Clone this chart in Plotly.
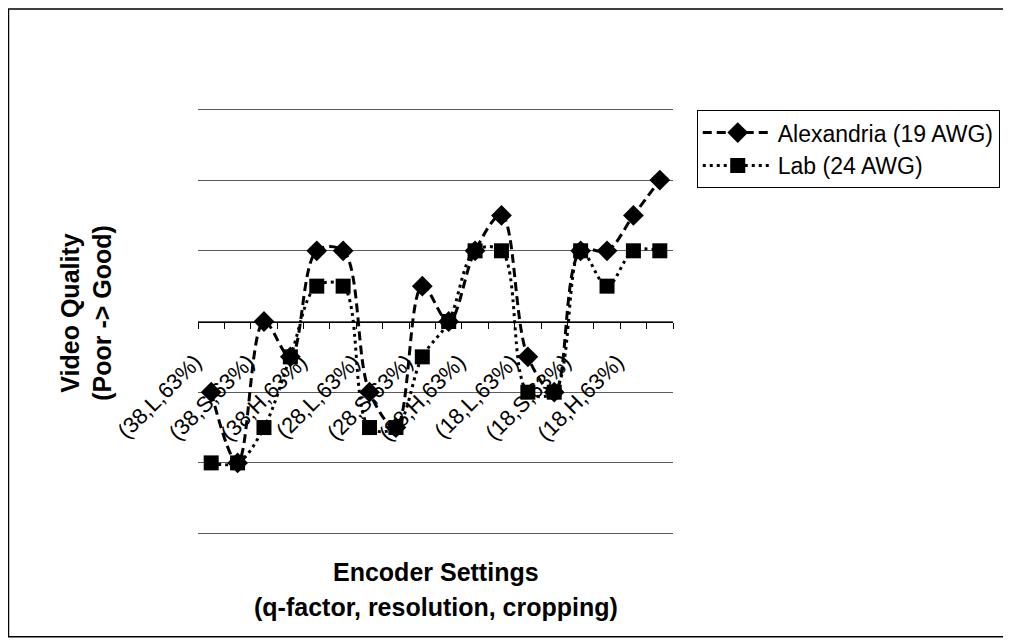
import plotly.graph_objects as go

# Category index (1..18) along the x axis
positions = list(range(1, 19))
# Visible tick labels (every other category)
label_positions = [1, 3, 5, 7, 9, 11, 13, 15, 17]
label_text = ["(38,L,63%)", "(38,S,63%)", "(38,H,63%)",
              "(28,L,63%)", "(28,S,63%)", "(28,H,63%)",
              "(18,L,63%)", "(18,S,63%)", "(18,H,63%)"]

alexandria = [-1, -2, 0, -0.5, 1, 1, -1, -1.5, 0.5, 0, 1, 1.5, -0.5, -1, 1, 1, 1.5, 2]
lab = [-2, -2, -1.5, -0.5, 0.5, 0.5, -1.5, -1.5, -0.5, 0, 1, 1, -1, -1, 1, 0.5, 1, 1]

FONT = "Liberation Sans, Arial, sans-serif"

fig = go.Figure()
fig.add_trace(go.Scatter(
    x=positions, y=alexandria, name="Alexandria (19 AWG)",
    mode="lines+markers",
    line=dict(color="black", width=3, dash="9px,5px", shape="spline", smoothing=1),
    marker=dict(symbol="diamond", size=16, color="black"),
))
fig.add_trace(go.Scatter(
    x=positions, y=lab, name="Lab (24 AWG)",
    mode="lines+markers",
    line=dict(color="black", width=3, dash="3px,4px", shape="spline", smoothing=1),
    marker=dict(symbol="square", size=15, color="black"),
))

fig.update_layout(
    width=1003, height=633,
    margin=dict(l=190, r=338, t=100, b=106, autoexpand=False),
    paper_bgcolor="white", plot_bgcolor="white",
    font=dict(family=FONT, color="black"),
    showlegend=True,
    legend=dict(
        x=1.05, y=0.995, xanchor="left", yanchor="top",
        bordercolor="black", borderwidth=1, bgcolor="white",
        font=dict(size=23, family=FONT, color="black"),
        itemwidth=70, tracegroupgap=0,
    ),
    xaxis=dict(
        range=[0.5, 18.5],
        anchor="free", position=0.5,
        showline=True, linecolor="black", linewidth=1,
        showgrid=False, zeroline=False, automargin=False,
        tickmode="array", tickvals=label_positions, ticktext=label_text,
        ticks="", tickangle=-45,
        ticklabelstandoff=18, ticklabelshift=-16,
        tickfont=dict(size=22, family=FONT, color="black"),
        minor=dict(tickmode="array", tickvals=[p - 0.5 for p in positions] + [18.5],
                   ticks="outside", ticklen=6, tickcolor="black", showgrid=False),
    ),
    yaxis=dict(
        range=[-3.02, 3.02], dtick=1, tick0=0, automargin=False,
        showgrid=True, gridcolor="#5a5a5a", gridwidth=1,
        zeroline=False, showline=False, showticklabels=False, ticks="",
    ),
    annotations=[
        dict(text="<b>Video Quality<br>(Poor -> Good)</b>", xref="paper", yref="paper",
             x=-0.234, y=0.52, xanchor="center", yanchor="middle", showarrow=False,
             textangle=-90, font=dict(size=25, family=FONT, color="black")),
        dict(text="<b>Encoder Settings</b>", xref="paper", yref="paper",
             x=0.5, y=-0.087, xanchor="center", yanchor="middle", showarrow=False,
             font=dict(size=25, family=FONT, color="black")),
        dict(text="<b>(q-factor, resolution, cropping)</b>", xref="paper", yref="paper",
             x=0.5, y=-0.169, xanchor="center", yanchor="middle", showarrow=False,
             font=dict(size=25, family=FONT, color="black")),
    ],
    shapes=[dict(type="rect", xref="paper", yref="paper",
                 x0=-0.399, x1=1.75, y0=-0.238, y1=1.232,
                 line=dict(color="black", width=1.5), fillcolor="rgba(0,0,0,0)", layer="below")],
)

fig.write_html("out.html")
